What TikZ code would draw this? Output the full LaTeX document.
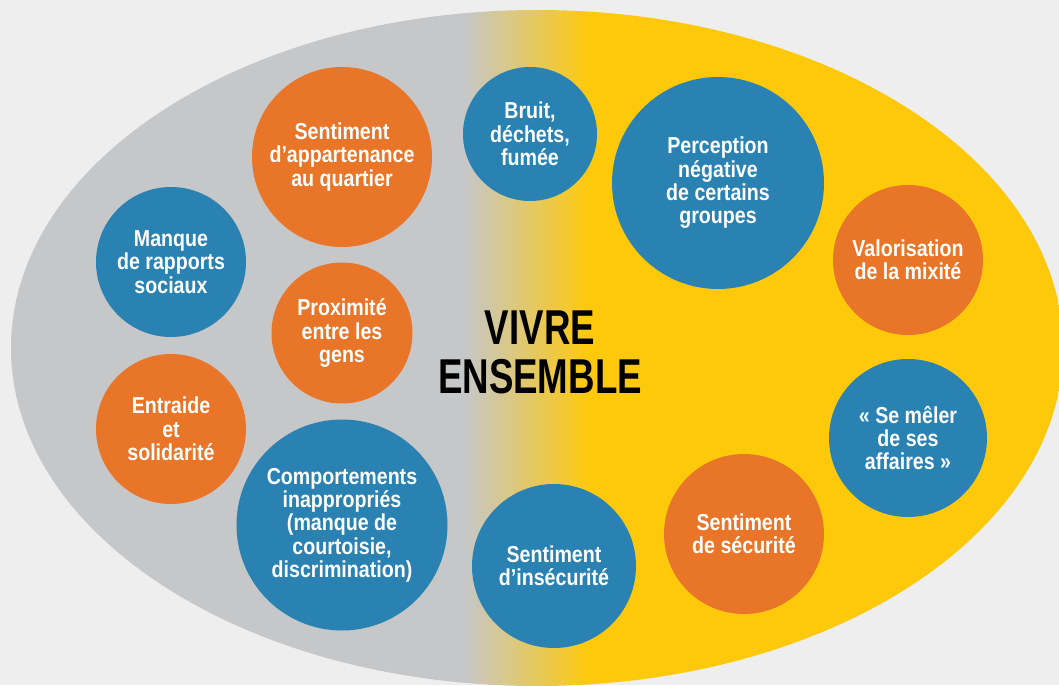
\documentclass[tikz,border=0pt]{standalone}
\usepackage{fontspec}
\newfontfamily\bubblefont[FakeStretch=0.85]{Liberation Sans}
\newfontfamily\titlefont[FakeStretch=0.75]{Liberation Sans}

\definecolor{pagegray}{HTML}{EEEEEE}
\definecolor{ovalgray}{HTML}{C6C7C9}
\definecolor{ovalyellow}{HTML}{FEC90A}
\definecolor{blobblue}{HTML}{2A82B2}
\definecolor{bloborange}{HTML}{E87528}

\tikzset{
    bubble/.style={circle, inner sep=0pt, text=white, align=center,
        font=\bubblefont\bfseries\fontsize{17.3}{17.5}\selectfont},
    bluebubble/.style={bubble, fill=blobblue},
    orangebubble/.style={bubble, fill=bloborange}
}

\begin{document}
\begin{tikzpicture}[x=0.75pt, y=-0.75pt]
    \fill[pagegray] (0,0) rectangle (1059,685);
    \useasboundingbox (0,0) rectangle (1059,685);

    \begin{scope}
        \clip (537,348) ellipse [x radius=526, y radius=338];
        \fill[ovalgray] (0,0) rectangle (466,690);
        \shade[left color=ovalgray, right color=ovalyellow] (465,0) rectangle (590,690);
        \fill[ovalyellow] (589,0) rectangle (1070,690);
    \end{scope}

    \node[orangebubble, minimum size=135pt] (appart) at (342,157)
        {Sentiment\\d’appartenance\\au quartier};
    \node[bluebubble, minimum size=100.5pt] (bruit) at (530,134)
        {Bruit,\\déchets,\\fumée};
    \node[bluebubble, minimum size=159pt] (perception) at (718,183)
        {Perception\\négative\\de certains\\groupes};
    \node[orangebubble, minimum size=112.5pt] (mixite) at (908,260)
        {Valorisation\\de la mixité};
    \node[bluebubble, minimum size=112.5pt] (rapports) at (171,262)
        {Manque\\de rapports\\sociaux};
    \node[orangebubble, minimum size=105.75pt] (proximite) at (342,333)
        {Proximité\\entre les\\gens};
    \node[orangebubble, minimum size=112.5pt] (entraide) at (171,429)
        {Entraide\\et\\solidarité};
    \node[bluebubble, minimum size=158.25pt] (comport) at (342,525)
        {Comportements\\inappropriés\\(manque de\\courtoisie,\\discrimination)};
    \node[bluebubble, minimum size=123pt] (insecu) at (554,566)
        {Sentiment\\d’insécurité};
    \node[orangebubble, minimum size=120pt] (secu) at (744,534)
        {Sentiment\\de sécurité};
    \node[bluebubble, minimum size=118.5pt] (meler) at (908,438)
        {«~Se mêler\\de ses\\affaires~»};

    \node[align=center, font=\titlefont\bfseries\fontsize{36.7}{36.75}\selectfont] (title) at (540,352)
        {VIVRE\\ENSEMBLE};
\end{tikzpicture}
\end{document}
